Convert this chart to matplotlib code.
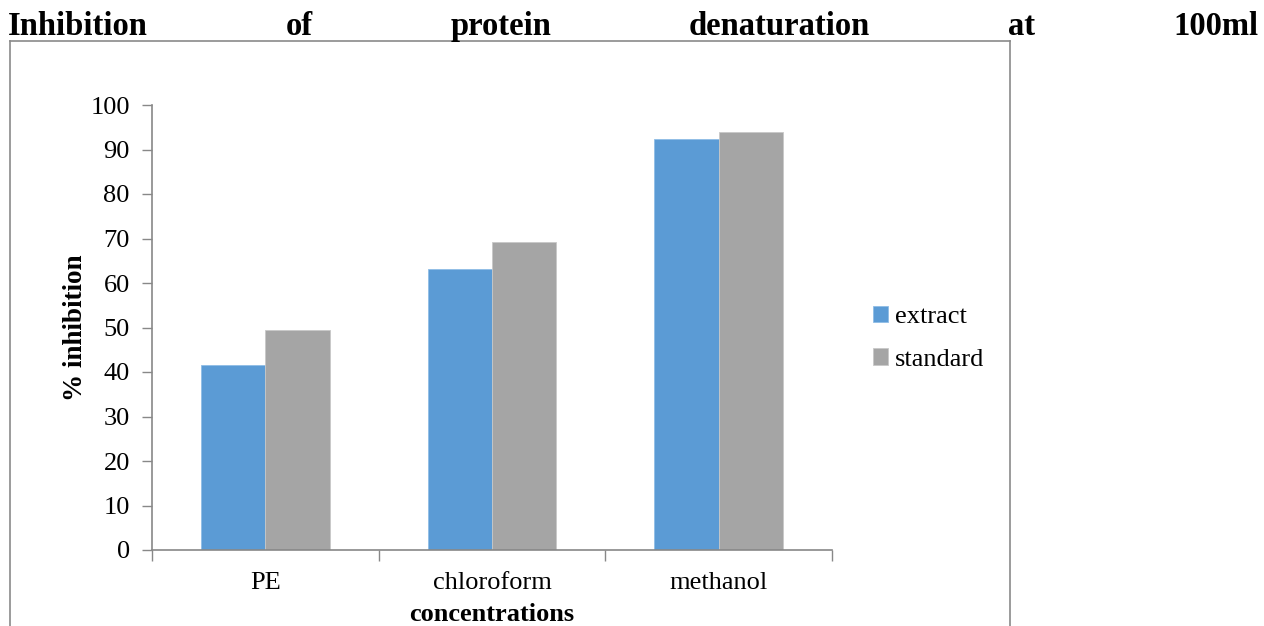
import matplotlib
matplotlib.use("Agg")
import matplotlib.pyplot as plt
import numpy as np
from matplotlib.lines import Line2D

categories = ["PE", "chloroform", "methanol"]
extract = [41.6, 63.1, 92.3]
standard = [49.4, 69.3, 93.9]
series_names = ["extract", "standard"]
yticks = [0, 10, 20, 30, 40, 50, 60, 70, 80, 90, 100]
title_words = ["Inhibition", "of", "protein", "denaturation", "at", "100ml"]

plt.rcParams["font.family"] = ["Liberation Serif", "DejaVu Serif"]

W, H = 1264, 626
fig = plt.figure(figsize=(W / 100, H / 100), dpi=100)
ax = fig.add_axes([152 / W, 1 - 550 / H, (832 - 152) / W, (550 - 105) / H])

x = np.arange(len(categories))
bw = 0.284
blue = "#5B9BD5"
grey = "#A5A5A5"
ax.bar(x - bw / 2, extract, bw, color=blue, edgecolor="#8fbde6", linewidth=0.6, label=series_names[0])
ax.bar(x + bw / 2, standard, bw, color=grey, edgecolor="#c8c8c8", linewidth=0.6, label=series_names[1])

ax.set_xlim(-0.5, len(categories) - 0.5)
ax.set_ylim(0, 100)
ax.set_yticks(yticks)
ax.set_yticklabels([str(v) for v in yticks], fontsize=19)
ax.set_xticks(x)
ax.set_xticklabels(categories, fontsize=19)
ax.tick_params(axis="x", length=0, pad=16)
ax.tick_params(axis="y", length=7, width=1, color="#888888", pad=9)
# category separators below the x axis
ax.set_xticks(np.arange(-0.5, len(categories)), minor=True)
ax.tick_params(axis="x", which="minor", length=8, width=1, color="#888888")

for s in ["top", "right"]:
    ax.spines[s].set_visible(False)
for s in ["left", "bottom"]:
    ax.spines[s].set_color("#888888")
    ax.spines[s].set_linewidth(1.2)

ax.set_ylabel("% inhibition", fontsize=19.5, fontweight="bold", labelpad=2)
ax.set_xlabel("concentrations", fontsize=19, fontweight="bold", labelpad=6)

leg = fig.legend(loc="upper left", bbox_to_anchor=(862 / W, 1 - 295 / H), frameon=False,
                 fontsize=19, handlelength=0.6, handleheight=0.6, handletextpad=0.25,
                 labelspacing=0.75, borderaxespad=0)

# outer chart frame
fc = "#8a8a8a"
fig.add_artist(Line2D([10 / W, 10 / W], [0, 1 - 41 / H], transform=fig.transFigure, color=fc, lw=1.2))
fig.add_artist(Line2D([1010 / W, 1010 / W], [0, 1 - 41 / H], transform=fig.transFigure, color=fc, lw=1.2))
fig.add_artist(Line2D([10 / W, 1010 / W], [1 - 41 / H, 1 - 41 / H], transform=fig.transFigure, color=fc, lw=1.2))

# justified title across the page width
fig.canvas.draw()
r = fig.canvas.get_renderer()
texts = [fig.text(0, 1 - 35 / H, w, fontsize=23.5, fontweight="bold", ha="left", va="baseline")
         for w in title_words]
widths = [t.get_window_extent(r).width for t in texts]
x0, x1 = 8, 1258
gap = (x1 - x0 - sum(widths)) / (len(title_words) - 1)
pos = x0
for t, w in zip(texts, widths):
    t.set_x(pos / W)
    pos += w + gap

fig.savefig("out.png", dpi=100)
